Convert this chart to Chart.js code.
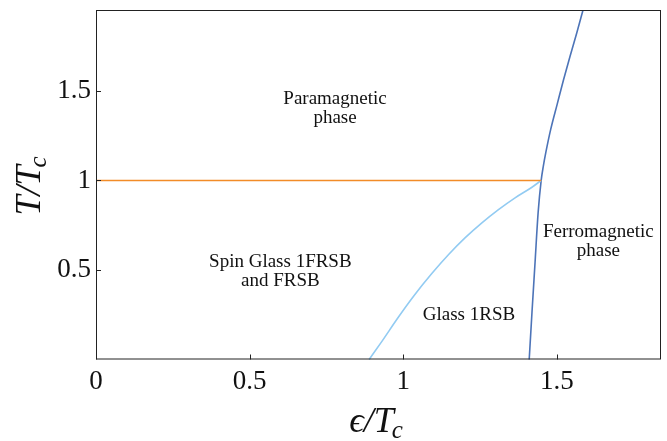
<!DOCTYPE html>
<html>
<body style="margin:0">

<canvas id="myChart" width="667" height="441"></canvas>

<script src="https://cdn.jsdelivr.net/npm/chart.js"></script>
<script>
// phase boundaries (epsilon/Tc, T/Tc)
let orangeX = [0, 1.449];
let orangeY = [1, 1];

let lightX = [0.889, 0.930, 0.984, 1.038, 1.093, 1.147, 1.201, 1.256, 1.310, 1.364, 1.419, 1.449];
let lightY = [0, 0.100, 0.236, 0.363, 0.480, 0.585, 0.679, 0.763, 0.837, 0.903, 0.962, 1.0];

let darkX = [1.410, 1.419, 1.429, 1.439, 1.449, 1.456, 1.464, 1.480, 1.501, 1.522, 1.543, 1.565, 1.585];
let darkY = [0, 0.261, 0.540, 0.819, 1.0, 1.080, 1.155, 1.285, 1.425, 1.564, 1.694, 1.825, 1.951];

let xTicks = [0, 0.5, 1, 1.5];
let yTicks = [0.5, 1, 1.5];

// region labels
let labelText = [['Paramagnetic', 'phase'], ['Spin Glass 1FRSB', 'and FRSB'], ['Glass 1RSB'], ['Ferromagnetic', 'phase']];
let labelX = [0.778, 0.600, 1.214, 1.635];
let labelY = [1.399, 0.489, 0.251, 0.659];

function pts(xs, ys) {
    return xs.map((x, i) => ({x: x, y: ys[i]}));
}

function fmt(v) {
    return String(v);
}

let serif = '"Liberation Serif", "DejaVu Serif", serif';

// frame, inward ticks, axis titles and region labels
let decor = {
    id: 'decor',
    afterDraw(chart) {
        let c = chart.ctx;
        let a = chart.chartArea;
        let sx = chart.scales.x, sy = chart.scales.y;
        c.save();
        c.strokeStyle = '#222';
        c.lineWidth = 1;
        c.strokeRect(a.left + 0.5, a.top + 0.5, a.right - a.left - 1, a.bottom - a.top - 1);
        xTicks.forEach(v => {
            let px = Math.round(sx.getPixelForValue(v)) + 0.5;
            c.beginPath(); c.moveTo(px, a.bottom); c.lineTo(px, a.bottom - 5); c.stroke();
        });
        yTicks.forEach(v => {
            let py = Math.round(sy.getPixelForValue(v)) + 0.5;
            c.beginPath(); c.moveTo(a.left, py); c.lineTo(a.left + 5, py); c.stroke();
        });

        c.fillStyle = '#111';
        c.textAlign = 'center';
        c.textBaseline = 'middle';
        c.font = '19px ' + serif;
        labelText.forEach((lines, i) => {
            let px = sx.getPixelForValue(labelX[i]);
            let py = sy.getPixelForValue(labelY[i]) - (lines.length - 1) * 9.5;
            lines.forEach((t, j) => c.fillText(t, px, py + j * 19));
        });

        // axis titles with subscript c
        function mathTitle(main, cx, cy) {
            c.font = 'italic 36px ' + serif;
            let w1 = c.measureText(main).width;
            c.font = 'italic 25px ' + serif;
            let w2 = c.measureText('c').width;
            let x0 = cx - (w1 + w2) / 2;
            c.textAlign = 'left';
            c.textBaseline = 'alphabetic';
            c.font = 'italic 36px ' + serif;
            c.fillText(main, x0, cy + 12);
            c.font = 'italic 25px ' + serif;
            c.fillText('c', x0 + w1 - 2, cy + 18);
        }
        mathTitle('\u03f5/T', 377, 420);
        c.translate(28, 185);
        c.rotate(-Math.PI / 2);
        mathTitle('T/T', 0, 0);
        c.restore();
    }
};

let ctx = document.getElementById('myChart').getContext('2d');
let chart = new Chart(ctx, {
    type: 'scatter',
    data: {
        datasets: [{
            data: pts(orangeX, orangeY),
            borderColor: '#F28C28',
            borderWidth: 1.6,
            showLine: true,
            pointRadius: 0
        }, {
            data: pts(lightX, lightY),
            borderColor: '#92CBF2',
            borderWidth: 1.6,
            showLine: true,
            pointRadius: 0,
            cubicInterpolationMode: 'monotone'
        }, {
            data: pts(darkX, darkY),
            borderColor: '#4D74B8',
            borderWidth: 1.6,
            showLine: true,
            pointRadius: 0,
            cubicInterpolationMode: 'monotone'
        }]
    },
    options: {
        responsive: false,
        animation: false,
        clip: false,
        layout: { padding: { top: 10, right: 6, left: 0, bottom: 0 } },
        plugins: { legend: { display: false }, tooltip: { enabled: false } },
        scales: {
            x: {
                type: 'linear',
                min: 0,
                max: 1.839,
                grid: { display: false, drawTicks: false },
                border: { display: false },
                afterBuildTicks: s => { s.ticks = xTicks.map(v => ({value: v})); },
                afterFit: s => { s.height = 81.5; s.paddingLeft = 0; s.paddingRight = 0; },
                ticks: {
                    callback: fmt,
                    color: '#111',
                    padding: 6,
                    maxRotation: 0,
                    font: { family: serif, size: 27 }
                }
            },
            y: {
                type: 'linear',
                min: 0,
                max: 1.952,
                grid: { display: false, drawTicks: false },
                border: { display: false },
                afterBuildTicks: s => { s.ticks = yTicks.map(v => ({value: v})); },
                afterFit: s => { s.width = 96; s.paddingTop = 0; s.paddingBottom = 0; },
                ticks: {
                    callback: fmt,
                    color: '#111',
                    padding: 5,
                    font: { family: serif, size: 27 }
                }
            }
        }
    },
    plugins: [decor]
});
</script>

</body>
</html>
